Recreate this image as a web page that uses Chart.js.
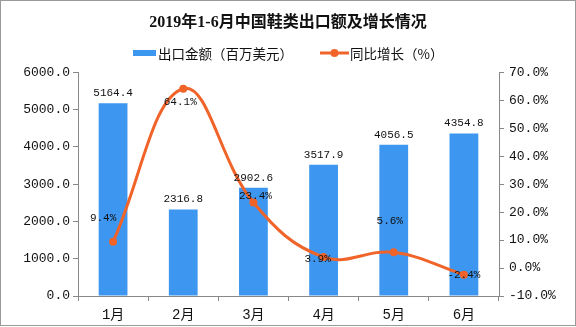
<!DOCTYPE html>
<html>
<head>
<meta charset="utf-8">
<script src="https://cdn.jsdelivr.net/npm/chart.js@4"></script>
<style>
  html, body { margin: 0; padding: 0; background: #fff; }
  #wrap { width: 576px; height: 327px; }
</style>
</head>
<body>
<div id="wrap"><canvas id="myCanvas" width="576" height="327"></canvas></div>
<script>
const months = ['1月', '2月', '3月', '4月', '5月', '6月'];
const exportValues = [5164.4, 2316.8, 2902.6, 3517.9, 4056.5, 4354.8];
const growthRates = [9.4, 64.1, 23.4, 3.9, 5.6, -2.4];

const barColor = '#3d96f0';
const lineColor = '#f0642a';
const numFont = "'Liberation Mono', 'Noto Sans CJK SC', monospace";
const cjkFont = "'Noto Sans CJK SC', sans-serif";

// value labels over the bars and next to the line points
const lineLabelShift = [[-10, -24], [-3, 13], [2, -6], [-6, 2], [-4, -31], [0, 0]];
const valueLabels = {
    id: 'valueLabels',
    afterDatasetsDraw(chart) {
        const ctx = chart.ctx;
        ctx.save();
        ctx.fillStyle = '#111';
        ctx.textAlign = 'center';
        ctx.textBaseline = 'middle';
        ctx.font = '11px ' + numFont;
        chart.getDatasetMeta(0).data.forEach(function(bar, i) {
            ctx.fillText(exportValues[i].toFixed(1), bar.x, bar.y - 10);
        });
        chart.getDatasetMeta(1).data.forEach(function(pt, i) {
            const s = lineLabelShift[i];
            ctx.fillText(growthRates[i].toFixed(1) + '%', pt.x + s[0], pt.y + s[1]);
        });
        ctx.restore();
    }
};

// legend row under the title: flat bar swatch, line-with-dot swatch
const legendRow = {
    id: 'legendRow',
    afterDraw(chart) {
        const ctx = chart.ctx;
        const ds = chart.data.datasets;
        const y = 53;
        ctx.save();
        ctx.font = '13.5px ' + cjkFont;
        ctx.textBaseline = 'middle';
        ctx.textAlign = 'left';
        const w1 = ctx.measureText(ds[0].label).width;
        const w2 = ctx.measureText(ds[1].label).width;
        const total = 23 + 2 + w1 + 27 + 29 + 1 + w2;
        let x = Math.round((chart.width - total) / 2);

        ctx.fillStyle = barColor;
        ctx.fillRect(x, y - 3, 23, 6);
        x += 25;
        ctx.fillStyle = '#111';
        ctx.fillText(ds[0].label, x, y + 1);
        x += w1 + 27;

        ctx.strokeStyle = lineColor;
        ctx.lineWidth = 3;
        ctx.beginPath();
        ctx.moveTo(x, y);
        ctx.lineTo(x + 29, y);
        ctx.stroke();
        ctx.fillStyle = lineColor;
        ctx.beginPath();
        ctx.arc(x + 14.5, y, 4, 0, Math.PI * 2);
        ctx.fill();
        x += 30;
        ctx.fillStyle = '#111';
        ctx.fillText(ds[1].label, x, y + 1);
        ctx.restore();
    }
};

const frame = {
    id: 'frame',
    afterDraw(chart) {
        const ctx = chart.ctx;
        ctx.save();
        ctx.strokeStyle = '#9a9a9a';
        ctx.lineWidth = 1;
        ctx.strokeRect(0.5, 0.5, chart.width - 1, chart.height - 2);
        ctx.restore();
    }
};

const canvas = document.getElementById('myCanvas');
const ctx = canvas.getContext('2d');

let chart = new Chart(ctx, {
    data: {
        labels: months,
        datasets: [{
            type: 'bar',
            label: '出口金额（百万美元）',
            data: exportValues,
            backgroundColor: barColor,
            yAxisID: 'y',
            categoryPercentage: 1,
            barPercentage: 0.41,
            order: 2
        }, {
            type: 'line',
            label: '同比增长（%）',
            data: growthRates,
            borderColor: lineColor,
            backgroundColor: lineColor,
            borderWidth: 3,
            pointRadius: 4,
            pointBackgroundColor: lineColor,
            pointBorderWidth: 0,
            tension: 0.4,
            yAxisID: 'y1',
            order: 1
        }]
    },
    options: {
        responsive: false,
        animation: false,
        layout: { padding: 0 },
        plugins: {
            title: {
                display: true,
                text: '2019年1-6月中国鞋类出口额及增长情况',
                color: '#111',
                font: { family: "'Liberation Serif', 'Noto Sans CJK SC', serif", size: 16, weight: 'bold' },
                padding: { top: 13, bottom: 40 }
            },
            legend: { display: false },
            tooltip: { enabled: false }
        },
        scales: {
            x: {
                offset: true,
                grid: { display: true, drawOnChartArea: false, offset: true, tickLength: 5, color: '#888' },
                border: { display: true, color: '#888' },
                ticks: { color: '#111', padding: 6, font: { family: numFont, size: 14 } },
                afterFit: function(scale) { scale.height = 31; }
            },
            y: {
                position: 'left',
                min: 0,
                max: 6000,
                grid: { drawOnChartArea: false, tickLength: 5, color: '#888' },
                border: { display: true, color: '#888' },
                ticks: {
                    stepSize: 1000,
                    color: '#111',
                    padding: 3,
                    font: { family: numFont, size: 13 },
                    callback: function(v) { return v.toFixed(1); }
                },
                afterFit: function(scale) { scale.width = 78; }
            },
            y1: {
                position: 'right',
                min: -10,
                max: 70,
                grid: { drawOnChartArea: false, tickLength: 5, color: '#888' },
                border: { display: true, color: '#888' },
                ticks: {
                    stepSize: 10,
                    color: '#111',
                    padding: 5,
                    font: { family: numFont, size: 13 },
                    callback: function(v) { return v.toFixed(1) + '%'; }
                },
                afterFit: function(scale) { scale.width = 77; }
            }
        }
    },
    plugins: [valueLabels, legendRow, frame]
});
</script>
</body>
</html>
